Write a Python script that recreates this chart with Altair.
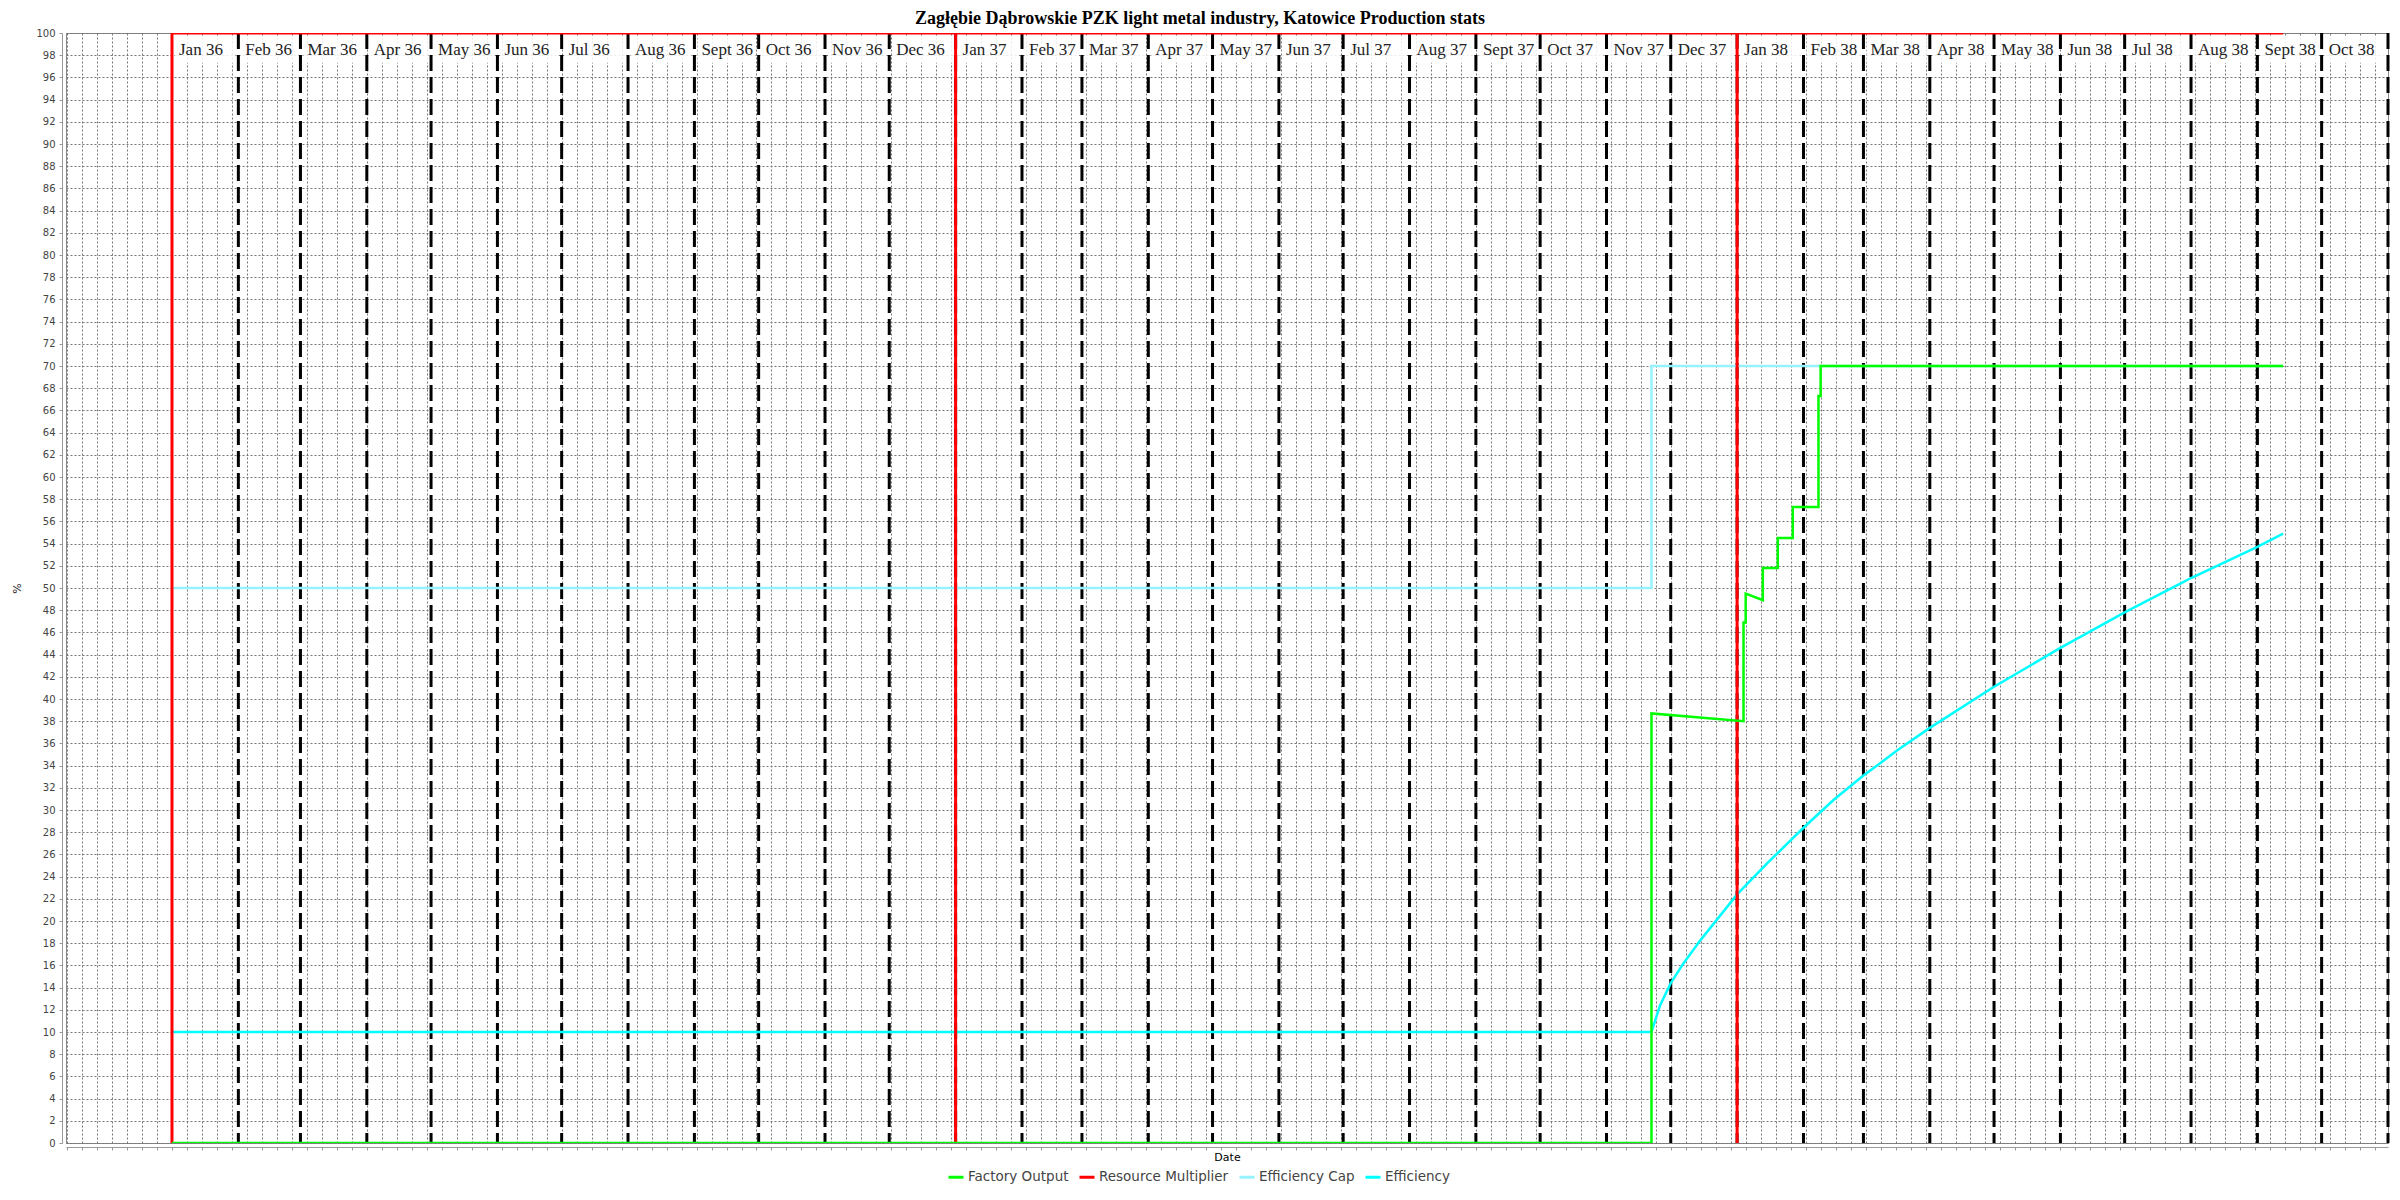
import altair as alt
import pandas as pd

TITLE = "Zagłębie Dąbrowskie PZK light metal industry, Katowice Production stats"

SERIES = ["Factory Output", "Resource Multiplier", "Efficiency Cap", "Efficiency"]
COLORS = ["#00ff00", "#ff0000", "#96f2ff", "#00ffff"]

# Factory Output (%)
fo_dates = ["1936-01-01", "1937-11-22", "1937-11-22", "1938-01-04", "1938-01-04",
            "1938-01-05", "1938-01-05", "1938-01-13", "1938-01-13", "1938-01-20",
            "1938-01-20", "1938-01-27", "1938-01-27", "1938-02-08", "1938-02-08",
            "1938-02-09", "1938-02-09", "1938-09-13"]
fo_vals = [0, 0, 38.7, 38.0, 46.9, 46.9, 49.5, 48.9, 51.8, 51.8, 54.5, 54.5,
           57.3, 57.3, 67.3, 67.3, 70, 70]

# Resource Multiplier (%)
rm_dates = ["1936-01-01", "1936-01-01", "1937-01-01", "1937-01-01", "1937-01-01",
            "1938-01-01", "1938-01-01", "1938-01-01", "1938-09-13"]
rm_vals = [0, 100, 100, 0, 100, 100, 0, 100, 100]

# Efficiency Cap (%)
cap_dates = ["1936-01-01", "1937-11-22", "1937-11-22", "1938-09-13"]
cap_vals = [50, 50, 70, 70]

# Efficiency (%)
eff_dates = ["1936-01-01", "1937-11-22", "1937-11-26", "1937-12-01", "1937-12-07",
             "1937-12-15", "1938-01-01", "1938-01-15", "1938-02-01", "1938-02-15",
             "1938-03-01", "1938-03-08", "1938-03-17", "1938-04-01", "1938-05-01",
             "1938-06-01", "1938-07-01", "1938-07-27", "1938-08-01", "1938-09-01",
             "1938-09-13"]
eff_vals = [10, 10, 12.4, 14.4, 16.2, 18.3, 22.4, 25.2, 28.4, 30.9, 33.1, 34.1,
            35.4, 37.4, 41.1, 44.6, 47.8, 50.4, 50.9, 53.7, 54.9]

# Month markers
month_labels = ["Jan 36", "Feb 36", "Mar 36", "Apr 36", "May 36", "Jun 36", "Jul 36",
                "Aug 36", "Sept 36", "Oct 36", "Nov 36", "Dec 36",
                "Jan 37", "Feb 37", "Mar 37", "Apr 37", "May 37", "Jun 37", "Jul 37",
                "Aug 37", "Sept 37", "Oct 37", "Nov 37", "Dec 37",
                "Jan 38", "Feb 38", "Mar 38", "Apr 38", "May 38", "Jun 38", "Jul 38",
                "Aug 38", "Sept 38", "Oct 38"]
month_starts = ["1936-01-01", "1936-02-01", "1936-03-01", "1936-04-01", "1936-05-01",
                "1936-06-01", "1936-07-01", "1936-08-01", "1936-09-01", "1936-10-01",
                "1936-11-01", "1936-12-01",
                "1937-01-01", "1937-02-01", "1937-03-01", "1937-04-01", "1937-05-01",
                "1937-06-01", "1937-07-01", "1937-08-01", "1937-09-01", "1937-10-01",
                "1937-11-01", "1937-12-01",
                "1938-01-01", "1938-02-01", "1938-03-01", "1938-04-01", "1938-05-01",
                "1938-06-01", "1938-07-01", "1938-08-01", "1938-09-01", "1938-10-01"]
month_ends = month_starts[1:] + ["1938-11-01"]

X_DOMAIN = ["1935-11-12T12:00:00", "1938-11-01T00:00:00"]
Y_TICKS = list(range(0, 101, 2))


def ms(s):
    return int(pd.Timestamp(s).value // 10**6)


week_ticks = [ms(d) for d in pd.date_range("1935-11-13", "1938-11-01", freq="7D")]
x_dom = [ms(d) for d in X_DOMAIN]

rows = []
for name, ds, vs in [("Factory Output", fo_dates, fo_vals),
                     ("Resource Multiplier", rm_dates, rm_vals),
                     ("Efficiency Cap", cap_dates, cap_vals),
                     ("Efficiency", eff_dates, eff_vals)]:
    for i, (d, v) in enumerate(zip(ds, vs)):
        rows.append({"date": d, "value": v, "series": name, "i": i})
df = pd.DataFrame(rows)

months = pd.DataFrame({"label": month_labels, "start": month_starts, "end": month_ends})
markers = pd.DataFrame({"date": month_ends})

xscale = alt.Scale(type="utc", domain=x_dom)
yscale = alt.Scale(domain=[0, 100], nice=False)

x_axis = alt.Axis(values=week_ticks, labels=False, ticks=True, tickSize=3,
                  grid=True, gridDash=[2, 2], gridColor="#777777", gridWidth=1,
                  domainColor="#999999", tickColor="#999999", offset=4,
                  title="Date", titleFont="DejaVu Sans", titleFontSize=11,
                  titleFontWeight="normal", titleColor="#000000", titlePadding=1)
y_axis = alt.Axis(values=Y_TICKS, grid=True, gridDash=[2, 2], gridColor="#777777",
                  gridWidth=1, domainColor="#999999", tickColor="#999999", tickSize=3,
                  offset=4, labelFont="DejaVu Sans", labelFontSize=10,
                  labelColor="#444444", labelPadding=4, labelOverlap=False,
                  labelFlush=False, title="%",
                  titleFont="DejaVu Sans", titleFontSize=11, titleFontWeight="normal",
                  titleColor="#222222", titleAngle=270, titleX=-45, titleY=555,
                  titleAlign="center", titleBaseline="middle")

X = lambda f: alt.X(f, type="temporal", scale=xscale, axis=x_axis)
Y = lambda f: alt.Y(f, type="quantitative", scale=yscale, axis=y_axis)

color = alt.Color("series:N", scale=alt.Scale(domain=SERIES, range=COLORS),
                  legend=alt.Legend(title=None, orient="none", direction="horizontal",
                                    legendX=881, legendY=1135, symbolType="stroke",
                                    symbolStrokeWidth=3, symbolSize=225,
                                    symbolOpacity=1,
                                    labelFont="DejaVu Sans", labelFontSize=13.5,
                                    labelColor="#444444", columnPadding=4,
                                    labelOffset=3))

axes_layer = alt.Chart(df).mark_line(opacity=0).encode(x=X("date"), y=Y("value"))

label_bg = alt.Chart(months).mark_rect(color="white", opacity=0.85, xOffset=3, x2Offset=-3).encode(
    x=X("start"), x2="end:T",
    y=alt.value(4), y2=alt.value(30),
)

marker_lines = alt.Chart(markers).mark_rule(color="#000000", strokeWidth=3,
                                            strokeDash=[16, 6]).encode(
    x=X("date"),
)

month_text = alt.Chart(months).mark_text(font="Liberation Serif", fontSize=17,
                                         color="#222222", align="left",
                                         baseline="alphabetic", dx=7).encode(
    x=X("start"), y=alt.value(22), text="label:N",
)


def series_layer(name, width):
    return alt.Chart(df).transform_filter(alt.datum.series == name).mark_line(
        strokeWidth=width, clip=True, interpolate="linear").encode(
        x=X("date"),
        y=Y("value"),
        color=color,
        order="i:Q",
    )


chart = alt.layer(
    axes_layer,
    label_bg,
    marker_lines,
    month_text,
    series_layer("Efficiency", 2.5),
    series_layer("Efficiency Cap", 2.5),
    series_layer("Resource Multiplier", 3),
    series_layer("Factory Output", 2.5),
).properties(
    width=2322, height=1110,
    padding={"left": 58, "top": 25, "right": 2, "bottom": 44},
    autosize=alt.AutoSizeParams(type="none"),
    title=alt.TitleParams(TITLE, font="Liberation Serif", fontSize=18,
                          fontWeight="bold", color="#000000", anchor="middle",
                          dx=-27, offset=0),
).configure_view(stroke="#888888", strokeWidth=1)

chart.save("out.html", embed_options={"renderer": "svg", "actions": False})
